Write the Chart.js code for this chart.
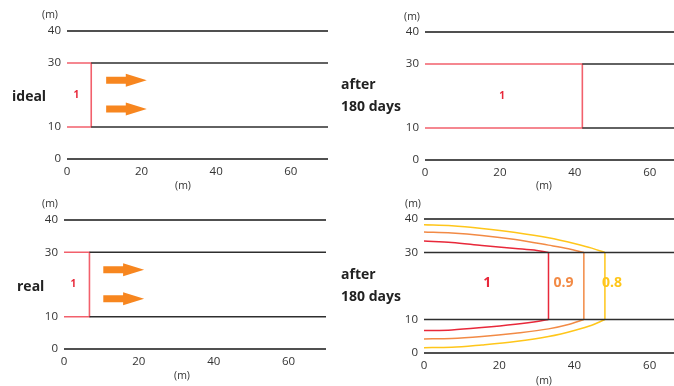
<!DOCTYPE html>
<html>
<head>
<meta charset="utf-8">
<script src="https://cdn.jsdelivr.net/npm/chart.js@4.4.0/dist/chart.umd.min.js"></script>
<style>
  body { margin: 0; background: #fff; width: 674px; height: 386px; overflow: hidden; position: relative; font-family: 'Open Sans', sans-serif; }
  canvas { position: absolute; }
  .t { position: absolute; color: #222; white-space: nowrap; transform: translate(-50%, -50%); }
  .unit { font-size: 10.5px; color: #333; }
  .name { font-size: 14px; font-weight: bold; transform: translate(0, -50%); }
</style>
</head>
<body>
<canvas id="c1" width="340" height="190" style="left:0;top:0"></canvas>
<canvas id="c2" width="342" height="190" style="left:334px;top:0"></canvas>
<canvas id="c3" width="340" height="190" style="left:0;top:190px"></canvas>
<canvas id="c4" width="342" height="196" style="left:334px;top:190px"></canvas>

<div class="t unit" style="left:50px;top:14px">(m)</div>
<div class="t unit" style="left:183px;top:185px">(m)</div>
<div class="t unit" style="left:412px;top:16px">(m)</div>
<div class="t unit" style="left:544px;top:185px">(m)</div>
<div class="t unit" style="left:50px;top:203px">(m)</div>
<div class="t unit" style="left:182px;top:375px">(m)</div>
<div class="t unit" style="left:413px;top:203px">(m)</div>
<div class="t unit" style="left:544px;top:380px">(m)</div>

<div class="t name" style="left:12px;top:95px">ideal</div>
<div class="t name" style="left:341px;top:83px">after</div>
<div class="t name" style="left:341px;top:105px">180 days</div>
<div class="t name" style="left:17px;top:285px">real</div>
<div class="t name" style="left:341px;top:273px">after</div>
<div class="t name" style="left:341px;top:295px">180 days</div>

<script>
// axes
const xTicks = [0, 20, 40, 60];
const yTicks = [0, 10, 30, 40];
const domainBottom = 0, domainTop = 40;
const layerBottom = 10, layerTop = 30;
const xEndLeft = 70, xEndRight = 67;

// position of the front (concentration 1)
const idealFront = 6.5;
const idealAfterFront = 42;
const realFront = 6.8;

// flow arrows
const arrowY = [24.6, 15.6];
const arrowFrom = 10.5;
const arrowTo = 21.4;

// real, after 180 days: contour lines 1 / 0.9 / 0.8
const contourLevels = ['1', '0.9', '0.8'];
const contourLabelX = [16.8, 37.1, 50];
const contourLabelY = 21;
const contourFront = [33.1, 42.5, 48.1];

const redTopX = [0, 7.4, 15.4, 24.3, 30.0, 33.1];
const redTopY = [33.4, 33.0, 32.1, 31.2, 30.6, 30];
const redBottomX = [0, 7.4, 15.4, 24.3, 30.5, 33.1];
const redBottomY = [6.7, 6.9, 7.6, 8.6, 9.5, 10];

const orangeX = [0, 7.4, 15.4, 24.3, 33.1, 38.4, 42.5];
const orangeTopY = [36.1, 35.8, 35.1, 33.9, 32.2, 31.1, 30];
const orangeBottomY = [4.2, 4.3, 4.9, 5.9, 7.2, 8.5, 10];

const yellowX = [0, 7.4, 15.4, 24.3, 33.1, 40.2, 44.6, 48.1];
const yellowTopY = [38.3, 38.0, 37.2, 36.0, 34.4, 32.6, 31.3, 30];
const yellowBottomY = [1.6, 1.7, 2.4, 3.4, 4.9, 6.8, 8.3, 10];

const GRAY = '#505050', BLACK = '#2e2e2e', PINK = '#f2606c';
const RED = '#e8283a', ORANGE = '#f28a45', YELLOW = '#ffc61a', ARROW = '#f7861f';

function line(xs, ys, color, width, extra) {
  return Object.assign({
    data: xs.map((x, i) => ({ x: x, y: ys[i] })),
    showLine: true,
    borderColor: color,
    borderWidth: width,
    pointRadius: 0,
    fill: false,
    clip: false
  }, extra || {});
}

// the channel with a pink front box, used by three panels
function channel(front, xEnd) {
  return [
    line([0, xEnd], [domainTop, domainTop], GRAY, 2.2),
    line([0, xEnd], [domainBottom, domainBottom], GRAY, 2.2),
    line([front, xEnd], [layerTop, layerTop], BLACK, 1.6),
    line([front, xEnd], [layerBottom, layerBottom], BLACK, 1.6),
    line([0, front, front, 0], [layerTop, layerTop, layerBottom, layerBottom], PINK, 1.6)
  ];
}

function marks(labels, arrows) {
  return {
    id: 'marks',
    afterDatasetsDraw(chart) {
      const ctx = chart.ctx, xs = chart.scales.x, ys = chart.scales.y;
      ctx.save();
      arrows.forEach(a => {
        const x0 = xs.getPixelForValue(a.from), x1 = xs.getPixelForValue(a.to);
        const y = ys.getPixelForValue(a.y), xh = x1 - 21;
        ctx.fillStyle = ARROW;
        ctx.beginPath();
        ctx.moveTo(x0, y - 3.5);
        ctx.lineTo(xh, y - 3.5);
        ctx.lineTo(xh, y - 6.5);
        ctx.lineTo(x1, y);
        ctx.lineTo(xh, y + 6.5);
        ctx.lineTo(xh, y + 3.5);
        ctx.lineTo(x0, y + 3.5);
        ctx.closePath();
        ctx.fill();
      });
      labels.forEach(l => {
        ctx.fillStyle = l.color;
        ctx.font = 'bold ' + l.size + 'px "Open Sans"';
        ctx.textAlign = 'center';
        ctx.textBaseline = 'middle';
        ctx.fillText(l.text, xs.getPixelForValue(l.x), ys.getPixelForValue(l.y));
      });
      ctx.restore();
    }
  };
}

function makeChart(id, c) {
  const tickFont = { family: 'Open Sans', size: 11.5 };
  return new Chart(document.getElementById(id), {
    type: 'scatter',
    data: { datasets: c.datasets },
    options: {
      responsive: false,
      animation: false,
      layout: { padding: c.padding },
      plugins: { legend: { display: false }, tooltip: { enabled: false } },
      scales: {
        x: {
          type: 'linear', min: 0, max: c.xMax,
          grid: { display: false, drawTicks: false },
          border: { display: false },
          ticks: { padding: 6, color: '#333', font: tickFont },
          afterBuildTicks: s => { s.ticks = xTicks.map(v => ({ value: v })); },
          afterFit: s => { s.height = c.xAxisH; }
        },
        y: {
          type: 'linear', min: domainBottom, max: domainTop,
          grid: { display: false, drawTicks: false },
          border: { display: false },
          ticks: { padding: 6, color: '#333', font: tickFont },
          afterBuildTicks: s => { s.ticks = yTicks.map(v => ({ value: v })); },
          afterFit: s => { s.width = c.yAxisW; }
        }
      }
    },
    plugins: [marks(c.labels || [], c.arrows || [])]
  });
}

const flow = arrowY.map(y => ({ from: arrowFrom, to: arrowTo, y: y }));

// ideal, start
makeChart('c1', {
  datasets: channel(idealFront, xEndLeft),
  xMax: xEndLeft, yAxisW: 67, xAxisH: 31,
  padding: { top: 31, right: 12, bottom: 0, left: 0 },
  labels: [{ text: '1', x: 2.5, y: 20, color: RED, size: 10 }],
  arrows: flow
});

// ideal, after 180 days
makeChart('c2', {
  datasets: channel(idealAfterFront, xEndRight),
  xMax: xEndRight, yAxisW: 91, xAxisH: 30,
  padding: { top: 32, right: 0, bottom: 0, left: 0 },
  labels: [{ text: '1', x: 20.6, y: 20, color: RED, size: 10 }]
});

// real, start
makeChart('c3', {
  datasets: channel(realFront, xEndLeft),
  xMax: xEndLeft, yAxisW: 64, xAxisH: 31,
  padding: { top: 30, right: 14, bottom: 0, left: 0 },
  labels: [{ text: '1', x: 2.5, y: 20, color: RED, size: 10 }],
  arrows: flow
});

// real, after 180 days
const colors = [RED, ORANGE, YELLOW];
const smooth = { cubicInterpolationMode: 'monotone' };
const real = [
  line([0, xEndRight], [domainTop, domainTop], GRAY, 2.2),
  line([0, xEndRight], [domainBottom, domainBottom], GRAY, 2.2),
  line([0, xEndRight], [layerTop, layerTop], BLACK, 1.6),
  line([0, xEndRight], [layerBottom, layerBottom], BLACK, 1.6),
  line(redTopX, redTopY, RED, 1.5, smooth),
  line(redBottomX, redBottomY, RED, 1.5, smooth),
  line(orangeX, orangeTopY, ORANGE, 1.5, smooth),
  line(orangeX, orangeBottomY, ORANGE, 1.5, smooth),
  line(yellowX, yellowTopY, YELLOW, 1.5, smooth),
  line(yellowX, yellowBottomY, YELLOW, 1.5, smooth)
];
contourFront.forEach((f, i) => real.push(line([f, f], [layerTop, layerBottom], colors[i], 1.5)));
makeChart('c4', {
  datasets: real,
  xMax: xEndRight, yAxisW: 90, xAxisH: 33,
  padding: { top: 29, right: 0, bottom: 0, left: 0 },
  labels: contourLevels.map((t, i) => ({ text: t, x: contourLabelX[i], y: contourLabelY, color: colors[i], size: 14 }))
});
</script>
</body>
</html>
